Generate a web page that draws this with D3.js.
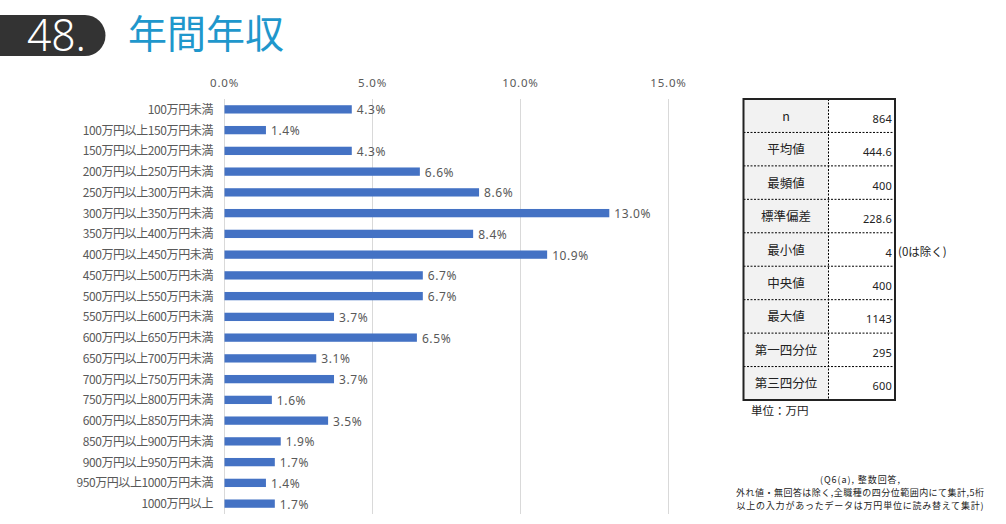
<!DOCTYPE html>
<html><head><meta charset="utf-8">
<script src="https://cdn.jsdelivr.net/npm/d3@7"></script>
<style>
body{margin:0;background:#fff;}
svg{display:block;font-family:"Noto Sans CJK JP","Noto Sans",sans-serif;}
</style></head>
<body><svg id="c" width="1006" height="524"></svg>
<script>
const categories = ["100万円未満","100万円以上150万円未満","150万円以上200万円未満","200万円以上250万円未満","250万円以上300万円未満","300万円以上350万円未満","350万円以上400万円未満","400万円以上450万円未満","450万円以上500万円未満","500万円以上550万円未満","550万円以上600万円未満","600万円以上650万円未満","650万円以上700万円未満","700万円以上750万円未満","750万円以上800万円未満","600万円以上850万円未満","850万円以上900万円未満","900万円以上950万円未満","950万円以上1000万円未満","1000万円以上"];
const values = [4.3,1.4,4.3,6.6,8.6,13.0,8.4,10.9,6.7,6.7,3.7,6.5,3.1,3.7,1.6,3.5,1.9,1.7,1.4,1.7];
const ticks = [0,5,10,15];
const statLabels = ["n","平均値","最頻値","標準偏差","最小値","中央値","最大値","第一四分位","第三四分位"];
const statValues = ["864","444.6","400","228.6","4","400","1143","295","600"];
const notes = ["(Q6(a), 整数回答,","外れ値・無回答は除く,全職種の四分位範囲内にて集計,5桁","以上の入力があったデータは万円単位に読み替えて集計)"];

const svg = d3.select("#c");

// Header
svg.append("path").attr("d","M0,15 H85 A20.5,20.5 0 0 1 85,56 H0 Z").attr("fill","#333333");
svg.append("text").attr("x",27).attr("y",51).attr("fill","#fff")
  .attr("font-size",44).attr("font-weight",300).attr("textLength",59).attr("lengthAdjust","spacingAndGlyphs")
  .attr("font-family","'Noto Sans','Open Sans',sans-serif").text("48.");
svg.append("text").attr("x",128).attr("y",48).attr("fill","#1f97cc").attr("font-size",39).text("年間年収");

// Chart
const x = d3.scaleLinear().domain([0,15]).range([224.5,668.5]);
const y = d3.scaleBand().domain(categories).range([99,514]).paddingInner(0.6).paddingOuter(0.3);

const g = svg.append("g");
g.selectAll("line.grid").data(ticks).join("line")
  .attr("x1",d=>x(d)).attr("x2",d=>x(d)).attr("y1",99).attr("y2",514)
  .attr("stroke","#d9d9d9").attr("stroke-width",1);
g.selectAll("text.tick").data(ticks).join("text")
  .attr("x",d=>x(d)).attr("y",87).attr("text-anchor","middle").attr("fill","#595959")
  .attr("font-size",11.5).attr("letter-spacing",0.8).attr("font-family","'Noto Sans',sans-serif")
  .text(d=>d3.format(".1f")(d)+"%");

g.selectAll("rect.bar").data(values).join("rect")
  .attr("x",x(0)).attr("y",(d,i)=>y(categories[i])).attr("width",d=>x(d)-x(0))
  .attr("height",y.bandwidth()).attr("fill","#4472c4");
g.selectAll("text.val").data(values).join("text")
  .attr("x",d=>x(d)+5).attr("y",(d,i)=>y(categories[i])+y.bandwidth()/2+5)
  .attr("fill","#595959").attr("font-size",12).attr("letter-spacing",0.6).attr("font-family","'Noto Sans',sans-serif")
  .text(d=>d.toFixed(1)+"%");
g.selectAll("text.cat").data(categories).join("text")
  .attr("x",213).attr("y",d=>y(d)+y.bandwidth()/2+4.5).attr("text-anchor","end")
  .attr("fill","#595959").attr("font-size",12).attr("letter-spacing",-0.4).text(d=>d);

// Table
const tx0=743.5, tx1=828.5, tx2=895, ty0=99, ty1=400;
const ry = d3.scaleBand().domain(statLabels).range([ty0,ty1]);
const t = svg.append("g");
t.selectAll("rect.lab").data(statLabels).join("rect")
  .attr("x",tx0).attr("y",d=>ry(d)).attr("width",tx1-tx0).attr("height",ry.bandwidth()).attr("fill","#f2f2f2");
t.selectAll("line.row").data(statLabels.slice(1)).join("line")
  .attr("x1",tx0).attr("x2",tx2).attr("y1",d=>ry(d)).attr("y2",d=>ry(d))
  .attr("stroke","#000").attr("stroke-width",1).attr("stroke-dasharray","2,1.5");
t.append("line").attr("x1",tx1).attr("x2",tx1).attr("y1",ty0).attr("y2",ty1)
  .attr("stroke","#000").attr("stroke-width",1).attr("stroke-dasharray","2,1.5");
t.append("rect").attr("x",tx0).attr("y",ty0).attr("width",tx2-tx0).attr("height",ty1-ty0)
  .attr("fill","none").attr("stroke","#222").attr("stroke-width",2);
t.selectAll("text.lab").data(statLabels).join("text")
  .attr("x",(tx0+tx1)/2).attr("y",d=>ry(d)+ry.bandwidth()/2+5).attr("text-anchor","middle")
  .attr("fill","#222").attr("font-size",12.5).text(d=>d);
t.selectAll("text.v").data(statValues).join("text")
  .attr("x",tx2-3).attr("y",(d,i)=>ry(statLabels[i])+ry.bandwidth()/2+7).attr("text-anchor","end")
  .attr("fill","#222").attr("font-size",11).attr("letter-spacing",0.2).attr("font-family","'Noto Sans',sans-serif").text(d=>d);
svg.append("text").attr("x",898).attr("y",ry("最小値")+ry.bandwidth()/2+6).attr("fill","#222")
  .attr("font-size",11.5).text("(0は除く)");
svg.append("text").attr("x",751).attr("y",415).attr("fill","#222").attr("font-size",11.5).text("単位：万円");

// Footnote
const noteW = [80,248,247];
svg.selectAll("text.note").data(notes).join("text")
  .attr("x",860).attr("y",(d,i)=>483+i*13).attr("text-anchor","middle")
  .attr("textLength",(d,i)=>noteW[i]).attr("lengthAdjust","spacing")
  .attr("fill","#222").attr("font-size",9).text(d=>d);
</script></body></html>
